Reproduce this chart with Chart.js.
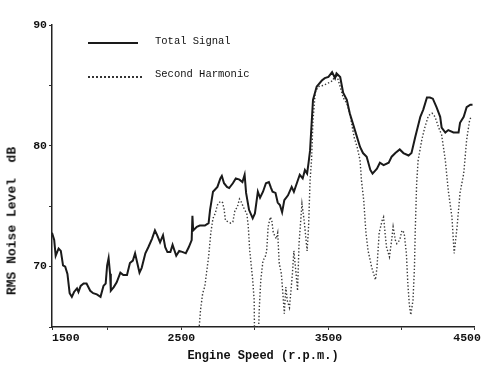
<!DOCTYPE html>
<html>
<head>
<meta charset="utf-8">
<script src="https://cdn.jsdelivr.net/npm/chart.js@4/dist/chart.umd.min.js"></script>
<style>
  html, body { margin: 0; padding: 0; background: #fff; }
  #wrap { position: relative; width: 488px; height: 371px; }
  #chart { position: absolute; left: 0; top: 0; }
  .legend-line { position: absolute; left: 88px; height: 0; }
  .legend-text { position: absolute; left: 155px; font: 10.5px 'Liberation Mono', monospace; color: #111; line-height: 14px; white-space: pre; }
  #ytitle { position: absolute; left: 12px; top: 221px; transform: translate(-50%, -50%) rotate(-90deg);
            font: bold 13px 'Liberation Mono', monospace; color: #111; white-space: pre; }
</style>
</head>
<body>
<div id="wrap">
  <canvas id="chart" width="488" height="371"></canvas>
  <div class="legend-line" style="top:42px; width:50px; border-top:2px solid #1a1a1a;"></div>
  <div class="legend-text" style="top:34px;">Total Signal</div>
  <div class="legend-line" style="top:76px; width:54px; border-top:2px dotted #333;"></div>
  <div class="legend-text" style="top:67px;">Second Harmonic</div>
  <div id="ytitle">RMS Noise Level  dB</div>
</div>
<script>
// engine speed (rpm) and level (dB)
const totalRpm = [1620, 1635, 1645, 1665, 1680, 1695, 1710, 1725, 1740, 1755, 1770, 1790, 1800, 1815, 1835, 1855, 1880, 1900, 1925, 1950,
  1970, 1985, 1995, 2005, 2015, 2020, 2040, 2060, 2085, 2105, 2130, 2150, 2170, 2185, 2200, 2215, 2230, 2255, 2275, 2300,
  2320, 2335, 2355, 2375, 2390, 2405, 2425, 2440, 2465, 2485, 2510, 2530, 2550, 2570, 2575, 2580, 2605, 2625, 2660, 2685,
  2695, 2715, 2745, 2765, 2775, 2790, 2810, 2825, 2850, 2870, 2895, 2915, 2930, 2940, 2960, 2985, 3000, 3020, 3035, 3055,
  3075, 3095, 3110, 3120, 3140, 3155, 3170, 3185, 3200, 3225, 3250, 3265, 3285, 3305, 3325, 3340, 3355, 3365, 3375, 3395,
  3420, 3455, 3475, 3500, 3525, 3545, 3555, 3580, 3600, 3625, 3645, 3680, 3715, 3735, 3760, 3785, 3800, 3830, 3850, 3875,
  3910, 3930, 3955, 3985, 4010, 4045, 4065, 4090, 4125, 4145, 4170, 4190, 4210, 4235, 4260, 4270, 4295, 4315, 4350, 4385,
  4395, 4420, 4440, 4465, 4480];
const totalDb = [72.8, 72.2, 70.9, 71.5, 71.3, 70.1, 70.0, 69.4, 67.8, 67.5, 67.9, 68.2, 67.9, 68.4, 68.6, 68.6, 68.0, 67.8, 67.7, 67.5,
  68.4, 68.6, 70.1, 70.7, 69.4, 68.0, 68.3, 68.7, 69.5, 69.3, 69.3, 70.3, 70.5, 71.1, 70.3, 69.5, 69.9, 71.1, 71.6, 72.3,
  73.0, 72.6, 72.0, 72.6, 71.6, 71.2, 71.2, 71.8, 70.9, 71.3, 71.2, 71.1, 71.6, 72.2, 74.2, 73.0, 73.3, 73.4, 73.4, 73.6,
  74.7, 76.2, 76.6, 77.3, 77.5, 76.9, 76.6, 76.5, 76.9, 77.3, 77.2, 77.0, 77.6, 76.1, 74.7, 74.0, 74.4, 76.2, 75.7, 76.2,
  76.9, 77.0, 76.5, 76.2, 76.1, 75.3, 75.1, 74.5, 75.5, 75.9, 76.6, 76.2, 76.9, 77.6, 77.3, 78.0, 77.7, 78.6, 79.6, 83.8,
  84.9, 85.4, 85.6, 85.7, 86.1, 85.6, 86.0, 85.7, 84.4, 83.8, 82.7, 81.3, 79.9, 79.4, 79.1, 78.0, 77.7, 78.1, 78.6, 78.4,
  78.6, 79.1, 79.4, 79.7, 79.4, 79.2, 79.4, 80.7, 82.4, 83.0, 84.0, 84.0, 83.9, 83.2, 82.4, 81.5, 81.1, 81.3, 81.1, 81.1,
  81.9, 82.4, 83.2, 83.4, 83.4];

const harmRpm = [2620, 2630, 2645, 2660, 2670, 2685, 2700, 2715, 2730, 2745, 2765, 2780, 2790, 2800, 2820, 2835, 2850, 2865, 2880, 2895,
  2905, 2930, 2945, 2955, 2965, 2985, 2995, 2997, 3025, 3030, 3040, 3055, 3070, 3080, 3090, 3105, 3115, 3125, 3145, 3155,
  3165, 3180, 3190, 3200, 3210, 3220, 3235, 3245, 3255, 3265, 3280, 3290, 3300, 3320, 3335, 3355, 3365, 3375, 3385, 3395,
  3410, 3430, 3465, 3500, 3530, 3545, 3560, 3580, 3600, 3625, 3645, 3675, 3695, 3715, 3725, 3740, 3755, 3770, 3795, 3820,
  3830, 3845, 3865, 3875, 3885, 3895, 3915, 3930, 3940, 3955, 3965, 3985, 4000, 4015, 4030, 4040, 4050, 4060, 4075, 4085,
  4090, 4100, 4110, 4135, 4155, 4180, 4205, 4225, 4250, 4270, 4295, 4315, 4340, 4355, 4375, 4395, 4420, 4440, 4460, 4470];
const harmDb = [64.8, 66.4, 67.8, 68.4, 69.4, 70.8, 72.8, 74.0, 74.4, 75.1, 75.4, 75.3, 74.8, 73.8, 73.7, 73.6, 73.7, 74.7, 74.9, 75.6,
  75.4, 74.7, 74.4, 73.3, 71.3, 68.9, 67.2, 64.8, 64.8, 66.6, 68.9, 70.5, 70.8, 71.3, 73.3, 74.1, 73.8, 72.8, 72.3, 72.8,
  70.3, 69.4, 67.8, 66.1, 68.3, 67.2, 66.6, 68.0, 69.4, 71.3, 69.4, 68.0, 71.9, 75.2, 73.8, 71.3, 73.3, 77.1, 78.8, 82.1,
  84.4, 84.9, 85.0, 85.2, 85.4, 85.9, 85.7, 84.9, 84.0, 83.5, 82.7, 80.7, 79.9, 78.8, 77.1, 75.5, 72.8, 71.3, 69.9, 68.9,
  69.9, 72.8, 73.8, 74.1, 72.8, 71.6, 70.8, 72.2, 73.3, 72.2, 71.9, 72.2, 73.0, 72.8, 71.1, 68.6, 66.9, 66.0, 67.2, 69.9,
  72.8, 76.9, 78.8, 80.5, 81.5, 82.5, 82.7, 82.4, 81.5, 80.9, 78.8, 76.3, 74.1, 71.1, 73.3, 76.1, 77.7, 80.5, 82.1, 82.4];

// the scan's axis starts a bit above 1500 but is labelled 1500 at its origin
const xTickValues = [1620, 2000, 2500, 3000, 3500, 4000, 4490];
const xTickLabels = ['    1500', '', '2500', '', '3500', '', '4500  '];
const yTickLabels = {70: '70', 80: '80', 90: '90'};

function toPoints(xs, ys) {
    return xs.map((x, i) => ({x: x, y: ys[i]}));
}

const tickFont = {family: "'Liberation Mono', monospace", size: 11.5, weight: 'bold'};

new Chart(document.getElementById('chart').getContext('2d'), {
    type: 'line',
    data: {
        datasets: [
            {
                label: 'Total Signal',
                data: toPoints(totalRpm, totalDb),
                borderColor: '#1a1a1a',
                borderWidth: 2,
                pointRadius: 0,
                tension: 0
            },
            {
                label: 'Second Harmonic',
                data: toPoints(harmRpm, harmDb),
                borderColor: '#3a3a3a',
                borderWidth: 1.4,
                borderDash: [1.4, 2],
                pointRadius: 0,
                tension: 0
            }
        ]
    },
    options: {
        responsive: false,
        animation: false,
        layout: {padding: {top: 25, right: 14, bottom: 0, left: 0}},
        plugins: {legend: {display: false}, tooltip: {enabled: false}},
        scales: {
            x: {
                type: 'linear',
                min: 1620,
                max: 4490,
                afterBuildTicks: axis => { axis.ticks = xTickValues.map(v => ({value: v})); },
                afterFit: axis => { axis.height = 44; axis.paddingLeft = 0; axis.paddingRight = 0; },
                grid: {drawOnChartArea: false, tickLength: 3, color: '#333'},
                border: {color: '#222', width: 1.5},
                ticks: {
                    autoSkip: false, maxRotation: 0, padding: 1, color: '#111', font: tickFont,
                    callback: (value, index) => xTickLabels[index]
                },
                title: {
                    display: true,
                    text: 'Engine Speed (r.p.m.)',
                    color: '#111',
                    font: {family: "'Liberation Mono', monospace", size: 12, weight: 'bold'},
                    padding: {top: 0, bottom: 8}
                }
            },
            y: {
                min: 65,
                max: 90,
                afterFit: axis => { axis.width = 52; },
                grid: {drawOnChartArea: false, tickLength: 3, color: '#333'},
                border: {color: '#222', width: 1.5},
                ticks: {
                    stepSize: 5, padding: 2, color: '#111', font: tickFont,
                    callback: value => yTickLabels[value] || ''
                }
            }
        }
    }
});
</script>
</body>
</html>
